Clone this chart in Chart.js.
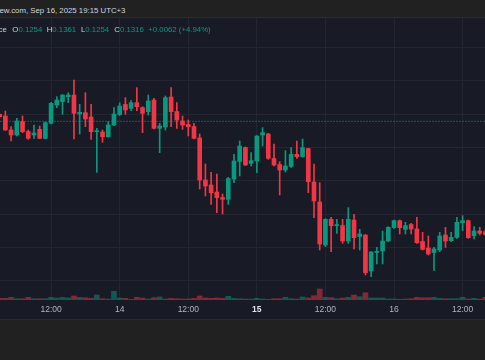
<!DOCTYPE html>
<html>
<head>
<meta charset="utf-8">
<script src="https://cdn.jsdelivr.net/npm/chart.js@4.4.1/dist/chart.umd.min.js"></script>
<style>
  html, body { margin: 0; padding: 0; width: 485px; height: 360px; overflow: hidden; background: #212121; }
  #topbar { position: absolute; left: 0; top: 0; width: 485px; height: 17px; background: #212121; border-bottom: 1px solid #2c2c2c; }
  #pane { position: absolute; left: 0; top: 18px; width: 485px; height: 301px; background: #181b25; border-bottom: 1px solid #2a2a2a; }
  #chart { position: absolute; left: 0; top: 18px; }
  .txt { position: absolute; white-space: nowrap; font-family: 'Liberation Sans', Arial, sans-serif; font-size: 7.8px; line-height: 10px; color: #d1d4dc; }
  .val { color: #089981; }
</style>
</head>
<body>
<div id="topbar"></div>
<div id="pane"></div>
<canvas id="chart" width="485" height="301"></canvas>
<div class="txt" style="left:-0.5px; top:5.6px;">ew.com, Sep 16, 2025 19:15 UTC+3</div>
<div class="txt" style="left:-1.5px; top:24.6px;">ce</div>
<div class="txt" style="left:12.3px; top:24.6px;">O<span class="val">0.1254</span></div>
<div class="txt" style="left:46.7px; top:24.6px;">H<span class="val">0.1361</span></div>
<div class="txt" style="left:81px; top:24.6px;">L<span class="val">0.1254</span></div>
<div class="txt" style="left:114.3px; top:24.6px;">C<span class="val">0.1316</span></div>
<div class="txt val" style="left:148.3px; top:24.6px;">+0.0062 (+4.94%)</div>

<script>
// hourly candles, hour counted from Sep 13 00:00 (UTC+3)
const hours = [3, 4, 5, 6, 7, 8, 9, 10, 11, 12, 13, 14, 15, 16, 17, 18, 19, 20, 21, 22,
  23, 24, 25, 26, 27, 28, 29, 30, 31, 32, 33, 34, 35, 36, 37, 38, 39, 40, 41, 42,
  43, 44, 45, 46, 47, 48, 49, 50, 51, 52, 53, 54, 55, 56, 57, 58, 59, 60, 61, 62,
  63, 64, 65, 66, 67, 68, 69, 70, 71, 72, 73, 74, 75, 76, 77, 78, 79, 80, 81, 82,
  83, 84, 85, 86, 87, 88];

const opens = [0.13999, 0.13989, 0.13905, 0.13875, 0.13956, 0.13896, 0.13875, 0.13909, 0.13855, 0.13945,
  0.14055, 0.14075, 0.14105, 0.14115, 0.14001, 0.14009, 0.13983, 0.13895, 0.13893, 0.13865,
  0.13935, 0.13998, 0.14058, 0.14035, 0.14069, 0.14039, 0.14015, 0.14085, 0.13915, 0.13923,
  0.14103, 0.14016, 0.13959, 0.13938, 0.13926, 0.13857, 0.13605, 0.13575, 0.13533, 0.13500,
  0.13489, 0.13611, 0.13716, 0.13800, 0.13705, 0.13719, 0.13875, 0.13881, 0.13734, 0.13698,
  0.13665, 0.13686, 0.13759, 0.13745, 0.13794, 0.13593, 0.13473, 0.13215, 0.13369, 0.13331,
  0.13332, 0.13239, 0.13365, 0.13266, 0.13275, 0.13059, 0.13171, 0.13179, 0.13239, 0.13320,
  0.13361, 0.13309, 0.13338, 0.13311, 0.13236, 0.13197, 0.13170, 0.13185, 0.13275, 0.13241,
  0.13260, 0.13349, 0.13361, 0.13271, 0.13299, 0.13296];

const highs = [0.14001, 0.14019, 0.13925, 0.13975, 0.13989, 0.13905, 0.13935, 0.13929, 0.13953, 0.14071,
  0.14105, 0.14117, 0.14129, 0.14205, 0.14059, 0.14129, 0.14059, 0.13915, 0.13905, 0.13955,
  0.14039, 0.14069, 0.14099, 0.14081, 0.14159, 0.14045, 0.14115, 0.14095, 0.13945, 0.14109,
  0.14159, 0.14069, 0.13989, 0.13965, 0.13945, 0.13881, 0.13701, 0.13651, 0.13641, 0.13521,
  0.13621, 0.13759, 0.13839, 0.13803, 0.13769, 0.13871, 0.13919, 0.13885, 0.13821, 0.13715,
  0.13781, 0.13799, 0.13839, 0.13851, 0.13795, 0.13701, 0.13589, 0.13373, 0.13381, 0.13369,
  0.13369, 0.13439, 0.13399, 0.13309, 0.13278, 0.13175, 0.13201, 0.13299, 0.13325, 0.13365,
  0.13365, 0.13351, 0.13345, 0.13381, 0.13291, 0.13269, 0.13201, 0.13291, 0.13321, 0.13291,
  0.13381, 0.13391, 0.13365, 0.13325, 0.13321, 0.13305];

const lows = [0.13983, 0.13902, 0.13839, 0.13869, 0.13889, 0.13849, 0.13855, 0.13853, 0.13851, 0.13941,
  0.14039, 0.13999, 0.14069, 0.13851, 0.13881, 0.13925, 0.13849, 0.13651, 0.13831, 0.13861,
  0.13931, 0.13991, 0.13999, 0.14021, 0.14021, 0.13889, 0.13995, 0.13911, 0.13769, 0.13905,
  0.13925, 0.13915, 0.13909, 0.13869, 0.13851, 0.13551, 0.13509, 0.13459, 0.13409, 0.13401,
  0.13459, 0.13589, 0.13629, 0.13692, 0.13689, 0.13649, 0.13809, 0.13729, 0.13689, 0.13515,
  0.13653, 0.13681, 0.13735, 0.13741, 0.13529, 0.13379, 0.13185, 0.13205, 0.13175, 0.13285,
  0.13225, 0.13225, 0.13191, 0.13185, 0.13035, 0.13025, 0.13101, 0.13101, 0.13235, 0.13315,
  0.13281, 0.13281, 0.13281, 0.13225, 0.13185, 0.13155, 0.13061, 0.13175, 0.13201, 0.13235,
  0.13255, 0.13301, 0.13255, 0.13251, 0.13275, 0.13269];

const closes = [0.13985, 0.13905, 0.13875, 0.13959, 0.13895, 0.13855, 0.13887, 0.13855, 0.13949, 0.14065,
  0.14085, 0.14115, 0.14115, 0.14005, 0.14011, 0.13971, 0.13895, 0.13901, 0.13865, 0.13935,
  0.14001, 0.14049, 0.14025, 0.14069, 0.14045, 0.14005, 0.14079, 0.13915, 0.13929, 0.14099,
  0.14015, 0.13965, 0.13935, 0.13925, 0.13855, 0.13605, 0.13569, 0.13529, 0.13499, 0.13489,
  0.13614, 0.13719, 0.13809, 0.13695, 0.13721, 0.13869, 0.13889, 0.13735, 0.13695, 0.13665,
  0.13689, 0.13759, 0.13745, 0.13799, 0.13595, 0.13479, 0.13221, 0.13369, 0.13331, 0.13335,
  0.13239, 0.13369, 0.13259, 0.13281, 0.13049, 0.13173, 0.13175, 0.13239, 0.13321, 0.13361,
  0.13319, 0.13331, 0.13311, 0.13229, 0.13189, 0.13161, 0.13191, 0.13269, 0.13239, 0.13261,
  0.13351, 0.13361, 0.13259, 0.13299, 0.13285, 0.13279];

const volumes = [17, 17, 27, 13, 13, 27, 13, 13, 13, 27,
  20, 27, 20, 40, 27, 23, 17, 50, 13, 10,
  87, 20, 17, 7, 27, 20, 10, 23, 30, 10,
  17, 13, 10, 10, 17, 40, 20, 17, 20, 17,
  37, 17, 13, 10, 10, 17, 10, 7, 13, 13,
  27, 13, 10, 30, 20, 43, 110, 27, 23, 13,
  20, 27, 50, 33, 73, 20, 20, 20, 10, 10,
  7, 10, 13, 27, 23, 23, 27, 17, 13, 13,
  13, 27, 10, 17, 10, 27];

const xTickHours = [12, 24, 36, 48, 60, 72, 84];
const xTickLabels = ['12:00', '14', '12:00', '15', '12:00', '16', '12:00'];
const boldLabel = '15';
const priceGrid = [0.130, 0.132, 0.134, 0.136, 0.138, 0.140, 0.142, 0.144];
const prevClose = 0.13957;

// visible window
const xMin = 3.06, xMax = 87.92;
const yMin = 0.12885, yMax = 0.14577;
const volMax = 2820;

const upColor = '#089981';
const downColor = '#f23645';
const gridColor = '#232632';

const isUp = closes.map((c, i) => c >= opens[i]);

const ctx = document.getElementById('chart').getContext('2d');

new Chart(ctx, {
  type: 'bar',
  data: {
    datasets: [{
      label: 'Bodies',
      data: hours.map((h, i) => ({ x: h, y: [opens[i], closes[i]] })),
      backgroundColor: isUp.map(u => u ? upColor : downColor),
      barThickness: 4,
      maxBarThickness: 4,
      minBarLength: 1,
      grouped: false,
      order: 1,
      yAxisID: 'y'
    }, {
      label: 'Wicks',
      data: hours.map((h, i) => ({ x: h, y: [lows[i], highs[i]] })),
      backgroundColor: isUp.map(u => u ? upColor : downColor),
      barThickness: 1,
      maxBarThickness: 1,
      grouped: false,
      order: 2,
      yAxisID: 'y'
    }, {
      type: 'line',
      label: 'Prev close',
      data: [{ x: xMin, y: prevClose }, { x: xMax, y: prevClose }],
      borderColor: 'rgba(8, 153, 129, 0.55)',
      borderWidth: 1,
      borderDash: [2, 1],
      pointRadius: 0,
      order: 3,
      yAxisID: 'y'
    }, {
      label: 'Volume',
      data: hours.map((h, i) => ({ x: h, y: volumes[i] })),
      backgroundColor: isUp.map(u => u ? 'rgba(8, 153, 129, 0.5)' : 'rgba(242, 54, 69, 0.5)'),
      barThickness: 5,
      maxBarThickness: 5,
      grouped: false,
      order: 4,
      yAxisID: 'yv'
    }]
  },
  options: {
    responsive: false,
    animation: false,
    events: [],
    layout: { padding: 0 },
    plugins: {
      legend: { display: false },
      tooltip: { enabled: false }
    },
    scales: {
      x: {
        type: 'linear',
        min: xMin,
        max: xMax,
        offset: false,
        grid: { color: gridColor, drawTicks: false, offset: false },
        border: { display: false },
        afterBuildTicks: function (scale) {
          scale.ticks = xTickHours.map(v => ({ value: v }));
        },
        afterFit: function (scale) {
          scale.height = 19;
        },
        ticks: {
          autoSkip: false,
          maxRotation: 0,
          padding: 5,
          callback: function (value) {
            return xTickLabels[xTickHours.indexOf(value)];
          },
          color: function (c) {
            return c.tick && c.tick.label === boldLabel ? '#e0e3eb' : '#b2b5be';
          },
          font: function (c) {
            const bold = c.tick && c.tick.label === boldLabel;
            return { family: "'Liberation Sans', Arial, sans-serif", size: 8.5, weight: bold ? 'bold' : 'normal' };
          }
        }
      },
      y: {
        position: 'right',
        min: yMin,
        max: yMax,
        afterBuildTicks: function (scale) {
          scale.ticks = priceGrid.map(v => ({ value: v }));
        },
        afterFit: function (scale) {
          scale.width = 0;
        },
        ticks: { display: false },
        grid: { color: gridColor, drawTicks: false },
        border: { display: false }
      },
      yv: {
        display: false,
        min: 0,
        max: volMax
      }
    }
  }
});
</script>
</body>
</html>
